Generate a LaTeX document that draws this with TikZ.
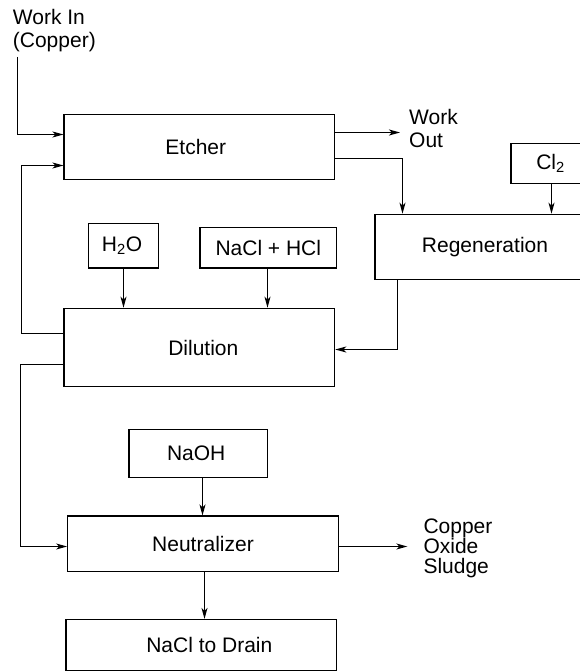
\documentclass[tikz,border=0pt]{standalone}
\usepackage{fontspec}
\setmainfont{Liberation Sans}
\usetikzlibrary{arrows.meta}
\begin{document}
\begin{tikzpicture}[x=1pt,y=-1pt,
  every node/.style={font=\fontsize{21}{23}\selectfont},
  box/.style={draw,line width=1.2pt,inner sep=0pt,minimum width=#1},
  lbl/.style={anchor=north west,inner sep=0pt,align=left},
  conn/.style={line width=1.2pt},
  arr/.style={conn,-{Stealth[length=11pt,width=6pt,inset=3pt]}}]
\useasboundingbox (0,0) rectangle (580,671);
\clip (0,0) rectangle (580,671);
% process boxes
\node[box=270.3,minimum height=65.3] (etch) at (199.2,147) {Etcher\hspace*{6.8pt}};
\node[box=270.7,minimum height=78.4] (dil) at (199.3,347.5) {\hspace*{8pt}Dilution};
\node[box=69.3,minimum height=44.7] (h2o) at (123.5,245.7) {H\textsubscript{2}O\hspace*{3pt}};
\node[box=136.7,minimum height=40.7] (hcl) at (268.3,247.7) {NaCl + HCl};
\node[box=220,minimum height=65] (regen) at (485,246.8) {Regeneration};
\node[box=81,minimum height=40] (cl) at (551.5,163.3) {Cl\textsubscript{2}\hspace*{2pt}};
\node[box=138.3,minimum height=48] (naoh) at (198.2,453.3) {NaOH\hspace*{4pt}};
\node[box=270.6,minimum height=55.3] (neut) at (203,543.7) {Neutralizer};
\node[box=270.7,minimum height=51] (drain) at (201.3,645) {\hspace*{16pt}NaCl to Drain};
% labels
\node[lbl] (win) at (12.7,9.3) {Work In\\(Copper)};
\node[lbl,font=\fontsize{21}{23.3}\selectfont] (wout) at (409,109.2) {Work\\Out};
\node[lbl,font=\fontsize{21}{19.5}\selectfont] (sludge) at (423.3,518.5) {Copper\\Oxide\\Sludge};
% free ends
\coordinate (winstart) at (17.5,57);
\coordinate (woutend) at (400,132.5);
\coordinate (sludgeend) at (407.3,546.5);
\coordinate (fbcorner) at (21.5,165.5);
\coordinate (ncorner) at (20.5,546.5);
% connectors
\draw[arr] (winstart) |- ([yshift=12.5pt]etch.west);
\draw[arr] ([yshift=14pt]dil.west) -| (fbcorner) -- ([yshift=-18.5pt]etch.west);
\draw[arr] ([yshift=14.5pt]etch.east) -- (woutend);
\draw[arr] ([yshift=-11.5pt]etch.east) -| ([xshift=-82.5pt]regen.north);
\draw[arr] (cl.south) -- (cl.south |- regen.north);
\draw[arr] (h2o.south) -- (h2o.south |- dil.north);
\draw[arr] ([xshift=-0.8pt]hcl.south) -- ([xshift=-0.8pt]hcl.south |- dil.north);
\draw[arr] ([xshift=-87.5pt]regen.south) |- ([yshift=-2pt]dil.east);
\draw[arr] ([yshift=-17pt]dil.west) -| (ncorner) -- ([yshift=-2.8pt]neut.west);
\draw[arr] ([xshift=-0.5pt]neut.north |- naoh.south) -- ([xshift=-0.5pt]neut.north);
\draw[arr] ([yshift=-2.8pt]neut.east) -- (sludgeend);
\draw[arr] ([xshift=1.5pt]neut.south) -- ([xshift=1.5pt]neut.south |- drain.north);
\end{tikzpicture}
\end{document}
